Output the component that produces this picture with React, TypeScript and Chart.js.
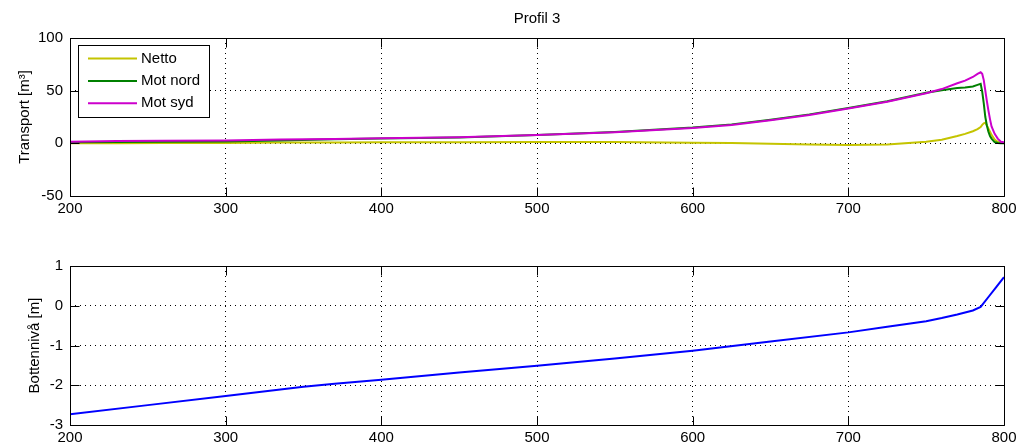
import React, { useEffect, useRef } from "react";
import { Chart, registerables } from "chart.js";

Chart.register(...registerables);

// ---------- data ----------
const chartTitle = "Profil 3";
const transportLabel = "Transport [m³]";
const bottenLabel = "Bottennivå [m]";

const xTransport = [200, 230, 260, 300, 335, 370, 400, 450, 500, 550, 600, 625, 650, 675, 700, 725, 750, 760, 770, 775, 780, 783, 785, 786, 787, 788, 789, 790, 791, 792, 794, 796, 798, 800];
const netto = [0, 0, 0.2, 0.4, 0.8, 0.8, 1, 1, 1.2, 1.2, 0.5, 0.2, -0.3, -1, -1.5, -1.2, 1.5, 3.5, 7, 9, 11.5, 13.5, 15.5, 17.5, 19, 19.5, 17, 14, 11, 8, 3.5, 1.5, 0.5, 0];
const motNord = [1.0, 1.2, 1.4, 1.8, 2.8, 3.8, 4.5, 5.6, 8.0, 10.8, 15, 18, 22.5, 27.5, 33.5, 40, 48, 50.5, 52.5, 53, 54, 55.5, 56.5, 49, 38, 25, 17, 11, 7, 4.5, 1.2, 0.4, 0.1, 0];
const motSyd = [1.5, 2.3, 2.4, 2.6, 3.6, 4.2, 4.8, 5.8, 8.0, 10.5, 14.5, 17.5, 22, 27, 33, 39.5, 47.5, 51.5, 57, 59.5, 63, 66, 67.5, 66, 60, 50, 40, 31, 23, 16, 9, 4.5, 1.5, 1];

const xBotten = [200, 250, 300, 350, 370, 400, 450, 476, 500, 550, 600, 650, 700, 725, 750, 760, 770, 780, 785, 790, 795, 800];
const botten = [-2.73, -2.5, -2.27, -2.04, -1.96, -1.86, -1.68, -1.59, -1.51, -1.33, -1.13, -0.9, -0.67, -0.53, -0.39, -0.31, -0.22, -0.12, -0.03, 0.22, 0.47, 0.72];

const xTicks = [200, 300, 400, 500, 600, 700, 800];
const transportTicks = [-50, 0, 50, 100];
const bottenTicks = [-3, -2, -1, 0, 1];

const seriesNames = ["Netto", "Mot nord", "Mot syd"];
const seriesColors = ["#c4c400", "#008000", "#cc00cc"];

// ---------- styling ----------
const FONT = "'Liberation Sans', Arial, sans-serif";
Chart.defaults.font.family = FONT;
Chart.defaults.font.size = 15;
Chart.defaults.color = "#000";

const W = 1026;
const AREA_LEFT = 70;
const AREA_RIGHT_PAD = 22;

const framePlugin = {
  id: "matlabFrame",
  afterDraw(chart: any, _args: any, opts: any) {
    const { ctx, chartArea: a, scales } = chart;
    const xs = scales.x;
    const ys = scales.y;
    ctx.save();
    ctx.setLineDash([]);
    ctx.strokeStyle = "#000";
    ctx.lineWidth = 1;
    const L = Math.floor(a.left) + 0.5;
    const R = Math.floor(a.right) + 0.5;
    const T = Math.floor(a.top) + 0.5;
    const B = Math.floor(a.bottom) + 0.5;
    ctx.beginPath();
    ctx.rect(L, T, R - L, B - T);
    ctx.stroke();
    const tl = 9;
    ctx.beginPath();
    xs.ticks.forEach((t: any) => {
      const p = Math.round(xs.getPixelForValue(t.value)) + 0.5;
      ctx.moveTo(p, B);
      ctx.lineTo(p, B - tl);
      ctx.moveTo(p, T);
      ctx.lineTo(p, T + tl);
    });
    ys.ticks.forEach((t: any) => {
      const p = Math.round(ys.getPixelForValue(t.value)) + 0.5;
      ctx.moveTo(L, p);
      ctx.lineTo(L + tl, p);
      ctx.moveTo(R, p);
      ctx.lineTo(R - tl, p);
    });
    ctx.stroke();

    if (opts && opts.title) {
      ctx.fillStyle = "#000";
      ctx.font = `15px ${FONT}`;
      ctx.textAlign = "center";
      ctx.textBaseline = "middle";
      ctx.fillText(opts.title, (a.left + a.right) / 2, 19);
    }

    if (opts && opts.legend) {
      const bx = 78.5, by = 45.5, bw = 131, bh = 72;
      ctx.fillStyle = "#fff";
      ctx.fillRect(bx, by, bw, bh);
      ctx.strokeStyle = "#000";
      ctx.strokeRect(bx, by, bw, bh);
      ctx.font = `15px ${FONT}`;
      ctx.textAlign = "left";
      ctx.textBaseline = "middle";
      chart.data.datasets.forEach((ds: any, i: number) => {
        const y = 58.5 + i * 22.4;
        ctx.strokeStyle = ds.borderColor;
        ctx.lineWidth = 2;
        ctx.beginPath();
        ctx.moveTo(88, y);
        ctx.lineTo(137, y);
        ctx.stroke();
        ctx.fillStyle = "#000";
        ctx.fillText(ds.label, 141, y);
      });
    }
    ctx.restore();
  },
};

function makeOptions(
  yMin: number,
  yMax: number,
  yTicks: number[],
  yTitle: string,
  yTitlePad: number,
  padTop: number,
  xAxisHeight: number,
  frame: any
): any {
  const gridCommon = { color: "#000", lineWidth: 1, drawTicks: false };
  return {
    responsive: false,
    animation: false,
    devicePixelRatio: 1,
    layout: { padding: { top: padTop, right: AREA_RIGHT_PAD, left: 0, bottom: 0 } },
    plugins: {
      legend: { display: false },
      tooltip: { enabled: false },
      title: { display: false },
      matlabFrame: frame,
    },
    elements: { point: { radius: 0 }, line: { tension: 0, borderWidth: 2 } },
    scales: {
      x: {
        type: "linear",
        min: 200,
        max: 800,
        afterBuildTicks: (s: any) => {
          s.ticks = xTicks.map((v) => ({ value: v }));
        },
        afterFit: (s: any) => {
          s.height = xAxisHeight;
        },
        ticks: { padding: 4, maxRotation: 0, autoSkip: false, font: { size: 15 } },
        grid: gridCommon,
        border: { display: false, dash: [1, 4] },
      },
      y: {
        type: "linear",
        min: yMin,
        max: yMax,
        afterBuildTicks: (s: any) => {
          s.ticks = yTicks.map((v) => ({ value: v }));
        },
        afterFit: (s: any) => {
          s.width = AREA_LEFT;
        },
        ticks: { padding: 7, autoSkip: false, font: { size: 15 } },
        grid: gridCommon,
        border: { display: false, dash: [1, 4] },
        title: { display: true, text: yTitle, font: { size: 15 }, padding: { top: yTitlePad, bottom: 0 } },
      },
    },
  };
}

export default function App() {
  const topRef = useRef<HTMLCanvasElement | null>(null);
  const botRef = useRef<HTMLCanvasElement | null>(null);

  useEffect(() => {
    const seriesValues = [netto, motNord, motSyd];
    const top = new Chart(topRef.current as HTMLCanvasElement, {
      type: "line",
      data: {
        datasets: seriesValues.map((vals, i) => ({
          label: seriesNames[i],
          data: xTransport.map((x, j) => ({ x, y: vals[j] })),
          borderColor: seriesColors[i],
          backgroundColor: seriesColors[i],
          borderWidth: 2,
          pointRadius: 0,
          fill: false,
          order: 2 - i,
        })),
      },
      options: makeOptions(-50, 100, transportTicks, transportLabel, 16, 38, 34, { legend: true, title: chartTitle }),
      plugins: [framePlugin],
    } as any);

    const bottom = new Chart(botRef.current as HTMLCanvasElement, {
      type: "line",
      data: {
        datasets: [
          {
            label: "Bottennivå",
            data: xBotten.map((x, j) => ({ x, y: botten[j] })),
            borderColor: "#0000ff",
            backgroundColor: "#0000ff",
            borderWidth: 2,
            pointRadius: 0,
            fill: false,
          },
        ],
      },
      options: makeOptions(-3, 1, bottenTicks, bottenLabel, 26, 36, 23, {}),
      plugins: [framePlugin],
    } as any);

    return () => {
      top.destroy();
      bottom.destroy();
    };
  }, []);

  return (
    <div style={{ position: "absolute", left: 0, top: 0, width: W, height: 448, background: "#fff" }}>
      <canvas ref={topRef} width={W} height={230} style={{ position: "absolute", left: 0, top: 0, display: "block" }} />
      <canvas ref={botRef} width={W} height={218} style={{ position: "absolute", left: 0, top: 230, display: "block" }} />
    </div>
  );
}
